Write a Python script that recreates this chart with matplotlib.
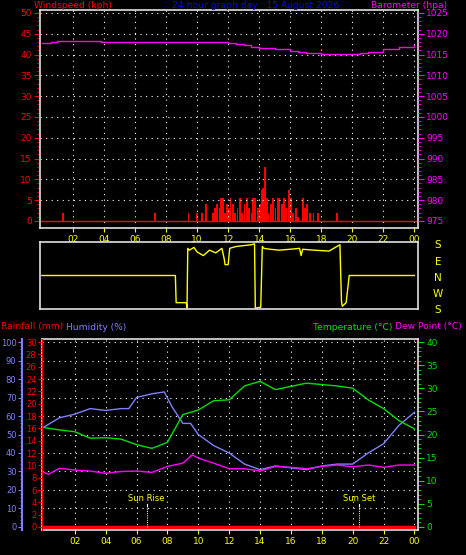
import matplotlib
matplotlib.use("Agg")
import matplotlib.pyplot as plt
import numpy as np

W, H = 466, 555
# ---- data ----
baro_hours = [0, 0.6, 1, 1.5, 2, 3, 3.8, 5, 6, 7, 7.3, 8, 9, 10, 11, 12, 12.5, 13, 13.5, 14, 15, 16, 16.5, 17, 18, 19, 20, 20.5, 21, 22, 23, 24]
baro_hpa = [1017.8, 1018.0, 1018.2, 1018.3, 1018.3, 1018.3, 1018.1, 1017.9, 1017.9, 1017.9, 1018.1, 1018.1, 1018.1, 1018.0, 1017.9, 1017.8, 1017.5, 1017.2, 1016.9, 1016.6, 1016.3, 1015.9, 1015.7, 1015.4, 1015.2, 1015.1, 1015.1, 1015.3, 1015.7, 1016.3, 1016.8, 1017.4]
wind_hours = [1.35, 7.3, 9.45, 10.0, 10.3, 10.6, 11.0, 11.15, 11.3, 11.45, 11.55, 11.65, 11.8, 11.9, 12.05, 12.15, 12.3, 12.45, 12.6, 12.75, 12.9, 13.05, 13.2, 13.35, 13.5, 13.6, 13.75, 13.9, 14.05, 14.15, 14.25, 14.35, 14.5, 14.6, 14.75, 14.9, 15.05, 15.2, 15.3, 15.45, 15.6, 15.75, 15.9, 16.05, 16.2, 16.35, 16.5, 16.8, 16.95, 17.1, 17.3, 17.5, 17.8, 19.0]
wind_kph = [2, 2, 2, 2, 2, 4, 2, 3, 4, 3, 5.5, 5.5, 2, 4, 3, 5.5, 4, 2, 3, 5.5, 2, 4, 5.5, 3, 2, 5.5, 5.5, 3, 4, 7.5, 8, 13, 5.5, 2, 4, 5.5, 3, 5.5, 5.5, 4, 5.5, 3, 7.5, 5.5, 2, 3, 1, 5.5, 3, 4, 2, 2, 2, 2]
dir_hours = [0, 8.6, 8.65, 9.3, 9.35, 9.4, 9.5, 9.8, 10.0, 10.4, 10.8, 11.2, 11.6, 11.75, 11.8, 12.0, 12.1, 12.5, 13.0, 13.5, 13.7, 13.75, 14.1, 14.2, 14.3, 14.7, 15.3, 16.0, 16.6, 16.7, 16.8, 17.5, 18.5, 19.2, 19.3, 19.35, 19.6, 19.8, 24]
dir_deg = [0, 0, -150, -150, -180, 150, 140, 155, 130, 110, 140, 125, 150, 90, 60, 60, 150, 160, 165, 170, 175, -180, -175, 160, 150, 145, 140, 145, 150, 110, 145, 140, 135, 170, -140, -170, -150, 0, 0]
hum_hours = [0, 1, 2, 3, 4, 5, 5.5, 6, 7, 7.8, 8.3, 9, 9.5, 10, 11, 12, 13, 14, 15, 16, 17, 18, 19, 20, 21, 22, 23, 24]
hum_pct = [54, 59, 61, 64, 63, 64, 64, 70, 72, 73, 65, 56, 56, 50, 44, 40, 34, 31, 33, 32, 31, 33, 34, 34, 40, 45, 55, 62]
temp_hours = list(range(25))
temp_c = [21.5, 21, 20.6, 19.2, 19.3, 19, 17.8, 17, 18.3, 24.3, 25.3, 27.3, 27.5, 30.5, 31.5, 29.7, 30.4, 31.1, 30.8, 30.5, 30, 27.5, 25.6, 23, 21.2]
dew_hours = [0, 0.3, 1, 2, 3, 4, 5, 6, 7, 8, 9, 9.6, 10, 11, 12, 13, 14, 15, 16, 17, 18, 19, 20, 21, 22, 23, 24]
dew_c = [11.8, 11.4, 12.7, 12.3, 12.1, 11.6, 12, 12.1, 11.8, 13.1, 13.8, 15.6, 14.9, 13.8, 12.6, 12.6, 12.1, 13.1, 12.9, 12.6, 13.1, 13.4, 13.0, 13.4, 12.9, 13.4, 13.4]
rain_hours = [0, 24]
rain_mm = [0, 0]
sunrise, sunset = 6.65, 20.4
xticks = list(range(2, 25, 2))
xlabels = ["02", "04", "06", "08", "10", "12", "14", "16", "18", "20", "22", "00"]

plt.rcParams['font.family'] = ['DejaVu Sans']
fig = plt.figure(figsize=(W/100, H/100), dpi=100, facecolor='black')

def box(x0, y0, x1, y1):
    return [x0/W, 1-y1/H, (x1-x0)/W, (y1-y0)/H]

FR = '#e0e0e0'
def style(ax):
    ax.set_facecolor('black')
    for s in ax.spines.values():
        s.set_color(FR); s.set_linewidth(1.2)

XL = (-0.12, 24.23)
FS = 6.6
# ---- top panel ----
ax = fig.add_axes(box(40, 10, 418, 228))
style(ax)
ax.set_xlim(XL); ax.set_ylim(-1.7, 50.7)
ax.set_xticks(xticks); ax.set_xticklabels(xlabels)
ax.set_yticks(range(0, 51, 5))
ax.set_yticks(np.arange(0, 51, 1), minor=True)
ax.tick_params(axis='x', colors='yellow', labelsize=6.5, length=3, pad=2)
ax.tick_params(axis='y', colors='red', labelsize=6.5, length=4, pad=2)
ax.tick_params(axis='y', which='minor', colors='red', length=2)
ax.grid(True, color='white', linestyle=(0, (1, 4)), linewidth=0.8)
ax.plot(XL, [0, 0], color='red', lw=1)
ax.bar(wind_hours, wind_kph, width=0.12, color='red')
ax.step(baro_hours, np.array(baro_hpa)-975, where='post', color='magenta', lw=1)
ax2 = ax.twinx()
ax2.set_ylim(975-1.7, 975+50.7)
ax2.set_yticks(range(975, 1026, 5))
ax2.set_yticks(np.arange(975, 1026, 1), minor=True)
ax2.tick_params(axis='y', colors='magenta', labelsize=6.5, length=4, pad=2)
ax2.tick_params(axis='y', which='minor', colors='magenta', length=2)
for s in ax2.spines.values(): s.set_visible(False)
fig.text(34/W, 1-6/H, "Windspeed (kph)", color='red', fontsize=FS, va='center')
fig.text(256/W, 1-6/H, "24 hour graph day : 15 August 2026", color='blue', fontsize=FS, va='center', ha='center')
fig.text(447/W, 1-6/H, "Barometer (hpa)", color='magenta', fontsize=FS, va='center', ha='right')

# ---- wind direction ----
axd = fig.add_axes(box(40, 242, 418, 309))
style(axd)
axd.set_xlim(XL); axd.set_ylim(-185, 185)
axd.set_xticks([]); axd.set_yticks([])
axd.plot(dir_hours, dir_deg, color='yellow', lw=1)
for lab, yy in zip("SENWS", [245, 262, 278, 294, 310]):
    fig.text(438/W, 1-yy/H, lab, color='yellow', fontsize=7.5, ha='center', va='center')

# ---- bottom panel ----
axb = fig.add_axes(box(42, 339, 418, 530))
style(axb)
yl = (-0.65, 40.65)
axb.set_xlim(XL); axb.set_ylim(yl)
axb.set_xticks(xticks); axb.set_xticklabels(xlabels)
axb.tick_params(axis='x', colors='yellow', labelsize=6.5, length=3, pad=2)
axb.yaxis.tick_right()
axb.set_yticks(range(0, 41, 5))
axb.set_yticks(np.arange(0, 41, 1), minor=True)
axb.tick_params(axis='y', colors='#00e000', labelsize=6.5, length=4, pad=2)
axb.tick_params(axis='y', which='minor', colors='#00e000', length=2)
for g in np.arange(0, 41, 4):
    axb.axhline(g, color='white', linestyle=(0, (1, 4)), lw=0.8)
for xt in xticks:
    axb.axvline(xt, color='white', linestyle=(0, (1, 4)), lw=0.8)
axb.plot(hum_hours, np.array(hum_pct)*0.4, color='#8080ff', lw=1)
axb.plot(temp_hours, temp_c, color='#00e000', lw=1)
axb.plot(dew_hours, dew_c, color='magenta', lw=1)
axb.plot(rain_hours, np.array(rain_mm)*4/3, color='red', lw=2.5)
for h_, lab in [(sunrise, "Sun Rise"), (sunset, "Sun Set")]:
    axb.plot([h_, h_], [0, 4.5], color='yellow', lw=0.8, linestyle=(0, (1, 1)))
    axb.plot([h_, h_], [4.5, 5], color='white', lw=0.8)
    axb.text(h_, 6.2, lab, color='yellow', fontsize=6, ha='center', va='center')
# rain axis
axr = fig.add_axes(box(42, 339, 42.1, 530))
axr.set_facecolor('none')
for k, s in axr.spines.items(): s.set_visible(k == 'left')
axr.spines['left'].set_color('red')
axr.set_ylim(yl[0]*0.75, yl[1]*0.75)
axr.set_xticks([])
axr.set_yticks(range(0, 31, 2))
axr.set_yticks(np.arange(0, 31, 0.5), minor=True)
axr.tick_params(axis='y', colors='red', labelsize=6, length=3, pad=1)
axr.tick_params(axis='y', which='minor', colors='red', length=1.5)
# humidity axis
axh = fig.add_axes(box(22, 339, 22.1, 530))
axh.set_facecolor('none')
for k, s in axh.spines.items(): s.set_visible(k == 'left')
axh.spines['left'].set_color('#8080ff'); axh.spines['left'].set_linewidth(1.5)
axh.set_ylim(yl[0]*2.5, yl[1]*2.5)
axh.set_xticks([])
axh.set_yticks(range(0, 101, 10))
axh.set_yticks(range(0, 101, 2), minor=True)
axh.tick_params(axis='y', colors='#8080ff', labelsize=6, length=3, pad=1)
axh.tick_params(axis='y', which='minor', colors='#8080ff', length=1.5)
fig.text(1/W, 1-327/H, "Rainfall (mm)", color='red', fontsize=FS, va='center')
fig.text(66/W, 1-327/H, "Humidity (%)", color='#8080ff', fontsize=FS, va='center')
fig.text(392/W, 1-327/H, "Temperature (°C)", color='#00e000', fontsize=FS, va='center', ha='right')
fig.text(462/W, 1-327/H, "Dew Point (°C)", color='magenta', fontsize=FS, va='center', ha='right')

fig.savefig("out.png", dpi=100, facecolor='black')
